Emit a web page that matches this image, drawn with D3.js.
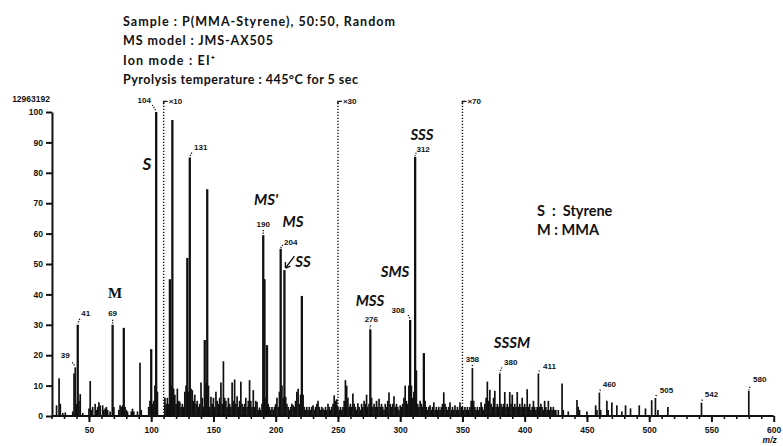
<!DOCTYPE html>
<html><head><meta charset="utf-8">
<script src="https://cdn.jsdelivr.net/npm/d3@7"></script>
<style>
html,body{margin:0;padding:0;background:#fff;}
svg{display:block;}
</style></head><body>
<svg id="chart" width="783" height="446"></svg>
<script>
// Py-GC/MS spectrum of P(MMA-Styrene) 50:50 random copolymer
const titleLines = [
  "Sample : P(MMA-Styrene), 50:50, Random",
  "MS model : JMS-AX505",
  "Ion mode : EI\u207A",
  "Pyrolysis temperature : 445\u00B0C for 5 sec"
];
const titleWidths = [272, 150, 92, 235];
const baseIntensity = "12963192";

// [m/z, relative intensity %] — below m/z 110 (x1)
const peaksLow = [[24,3.5],[26,12.4],[27,4],[29,1],[31,1.2],[37,1.5],[38,14],[39,16],[40,4],[41,30],[42,5],[43,7.2],[45,1],[50,2.5],[51,11.5],[52,2],[53,3],[55,4],[56,2],[57,3],[58,4.5],[59,3.5],[61,3.5],[62,2],[63,2.5],[64,3],[65,2],[67,1.5],[69,30],[70,3],[74,2],[75,3.5],[76,3],[77,3.5],[78,29],[79,3],[80,2],[81,1.5],[84,1.5],[85,2.4],[86,1.5],[89,1.5],[91,17.5],[92,2],[98,3],[99,5],[100,22],[101,4],[102,5],[103,10],[104,100],[105,8]];
// m/z 110–249, shown x10
const peaksX10 = [[111,6],[112,4],[113,6],[114,4],[115,45],[116,10],[117,97.4],[118,9],[119,7],[120,4],[121,9],[122,5],[123,4.7],[124,3],[125,4],[126,3],[127,8],[128,10],[129,52],[130,8],[131,85],[132,9],[133,8.5],[134,5],[135,7],[136,4],[137,5],[138,3],[139,4],[140,11],[141,6],[142,3],[143,25],[144,11],[145,74.6],[146,10],[147,3],[148,6.3],[149,4],[150,6],[151,3],[152,8],[153,5],[154,4],[155,6],[156,11],[157,4],[158,18],[159,6],[160,5],[161,3],[162,6],[163,4],[164,3],[165,11],[166,5],[167,12],[168,4],[169,6.5],[170,3],[171,5],[172,11.3],[173,4],[174,3],[175,4],[176,6],[177,3],[178,5],[179,11.8],[180,5],[181,3],[182,8.5],[183,3],[184,5],[185,4.6],[186,2],[187,2.8],[188,2],[189,4],[190,59.5],[191,45],[192,6],[193,23.3],[194,4],[195,3],[196,2],[197,3],[198,2],[199,3],[200,4],[201,6],[202,3],[203,8],[204,55],[205,10],[206,6],[207,48],[208,6.3],[209,4],[210,3],[211,2],[212,3],[213,4],[214,3.5],[215,3],[216,5],[217,8],[218,9],[219,4],[220,7],[221,39.5],[222,7],[223,3],[224,2],[225,3],[226,2],[227,3],[228,2],[229,3],[230,3.5],[231,2],[232,3],[233,4],[234,5],[235,3],[236,2],[237,3],[238,2.5],[239,2],[240,3],[241,2],[242,4],[243,3],[244,2],[245,3],[246,4],[247,6.8],[248,5],[249,5.5]];
// m/z 250–349, shown x30
const peaksX30 = [[250,3],[251,2],[252,3],[253,2],[254,3],[255,5],[256,11.8],[257,10],[258,6],[259,3],[260,4],[261,3],[262,7.4],[263,4],[264,3],[265,2],[266,4.2],[267,3],[268,2],[269,4],[270,3],[271,5],[272,4],[273,7],[274,3],[275,4],[276,28.5],[277,6],[278,3],[279,4],[280,3],[281,5],[282,3],[283,5.7],[284,3],[285,4],[286,3],[287,2],[288,4],[289,3],[290,5],[291,7.7],[292,4],[293,3],[294,4],[295,6.5],[296,3],[297,4],[298,3],[299,2],[300,3.5],[301,3],[302,4],[303,6],[304,10],[305,5],[306,4],[307,10],[308,31.6],[309,10],[310,6],[311,8],[312,85.3],[313,15],[314,4],[315,3],[316,5],[317,4],[318,3],[319,20.7],[320,5],[321,3],[322,2],[323,3],[324,3.5],[325,2],[326,3],[327,4.5],[328,2],[329,3],[330,2],[331,3],[332,2],[333,3],[334,4],[335,7.8],[336,4],[337,3],[338,2],[339,3],[340,4.5],[341,2],[342,3],[343,2],[344,3.5],[345,2],[346,3],[347,2],[348,4.5],[349,3]];
// m/z 350–600, shown x70
const peaksX70 = [[350,3],[351,2],[352,3],[353,2],[354,3],[355,2],[356,3],[357,5],[358,15.8],[359,5],[360,3],[361,2],[362,3],[363,2],[364,3],[365,4.5],[366,3],[367,2],[368,4],[369,6],[370,11.3],[371,5],[372,8.6],[373,4],[374,3],[375,6],[376,8.3],[377,3],[378,4],[379,3],[380,14],[381,4],[382,3],[383,4],[384,7.9],[385,3],[386,4],[387,3],[388,7.9],[389,4],[390,7],[391,3],[392,4],[393,3],[394,7.9],[395,3],[396,4],[397,3],[398,6],[399,3],[400,4],[401,3],[402,8.8],[403,3],[404,4],[405,2],[406,3],[407,5],[408,3],[409,2],[410,3],[411,14],[412,3],[413,4],[414,3],[415,2],[416,5],[417,3],[418,2],[419,5],[420,2],[421,3],[422,2],[423,3],[424,2],[425,2],[427,2],[430,10.7],[431,2],[435,1.5],[442,5.3],[443,3],[444,2],[450,1.5],[457,3.5],[458,2],[460,7.7],[461,2],[466,5],[467,2],[470,4.4],[474,3.5],[478,1.5],[481,3.5],[485,2.5],[492,3.5],[497,2.5],[502,5.2],[505,5.9],[507,2],[515,3],[542,4.4],[580,8.3]];

const labelledPeaks = [39,41,69,104,131,190,204,276,308,312,358,380,411,460,505,542,580];
const magStart = [110,250,350];
const magFactor = [10,30,70];
const yTicks = [0,10,20,30,40,50,60,70,80,90,100];
const xTicks = [50,100,150,200,250,300,350,400,450,500,550,600];
const compoundNames = ["S","M","MS'","MS","SS","SMS","MSS","SSS","SSSM"];
const legendLines = ["S  :  Styrene","M : MMA"];

// label placement relative to the peak top: [text dx, text dy, leader dx, leader dy]
const labelPlace = {
  39:[-10,-9,-3,-5], 41:[8,-9,2,-6], 69:[0,-9,0,-5], 104:[-12,-9,-4,-7],
  131:[11,-8,2,-5], 190:[0,-8,0,-5], 204:[10,-4,2,-4], 276:[1,-7,0,-4],
  308:[-12,-7,-2,-5], 312:[8,-5,1,-4], 358:[0,-6,0,-3], 380:[11,-8,2,-6],
  411:[11,-4,1,-3], 460:[10,-6,1,-3], 505:[11,-5,1,-3], 542:[10,-6,1,-3], 580:[11,-9,1,-4]
};
// compound annotation positions [x, baseline y, font-size, style]
const compoundPlace = {
  "S":[147,170,17,"i"], "M":[115,298,15,"serif"], "MS'":[266,205,15,"i"], "MS":[293,227,15,"i"],
  "SS":[303,267,15,"i"], "SMS":[395,277,15,"i"], "MSS":[370,306,15,"i"], "SSS":[422,140,15,"i"],
  "SSSM":[512,348,15,"i"]
};

const x = d3.scaleLinear().domain([0,600]).range([26.7,773.7]);
const y = d3.scaleLinear().domain([0,100]).range([416,112]);

const svg = d3.select("#chart");
const ink = "#111";
const allPeaks = [].concat(peaksLow, peaksX10, peaksX30, peaksX70);
const valueOf = new Map(allPeaks);

// header text
svg.append("g").selectAll("text").data(titleLines).join("text")
  .attr("x",123).attr("y",(d,i)=>26+i*19.3)
  .attr("font-family","Lato, 'Open Sans', sans-serif").attr("font-weight",700)
  .attr("font-size",12.5).attr("fill",ink)
  .attr("textLength",(d,i)=>titleWidths[i]).attr("lengthAdjust","spacing").text(d=>d);

// y axis
const yAxis = d3.axisLeft(y).tickValues(yTicks).tickSize(6).tickSizeOuter(0).tickPadding(3);
const gy = svg.append("g").attr("transform",`translate(${x(20.3)},0)`).call(yAxis);
gy.select(".domain").attr("stroke",ink).attr("stroke-width",2);
gy.selectAll(".tick line").attr("stroke",ink).attr("stroke-width",2);
gy.selectAll(".tick text").attr("font-family","'Liberation Sans', Arial, sans-serif")
  .attr("font-weight",700).attr("font-size",8.5).attr("fill",ink);
svg.append("text").attr("x",x(20.3)-2).attr("y",y(100)-10).attr("text-anchor","end")
  .attr("font-family","'Liberation Sans', Arial, sans-serif").attr("font-weight",700)
  .attr("font-size",8.5).attr("fill",ink).text(baseIntensity);

// x axis: minor ticks every 10, labelled every 50
const minorAxis = d3.axisBottom(x).tickValues(d3.range(20,600,10)).tickSize(3).tickFormat("");
const gm = svg.append("g").attr("transform",`translate(0,${y(0)})`).call(minorAxis);
gm.select(".domain").remove();
gm.selectAll(".tick line").attr("stroke",ink).attr("stroke-width",1.6);
const xAxis = d3.axisBottom(x).tickValues(xTicks).tickSize(6).tickPadding(5);
const gx = svg.append("g").attr("transform",`translate(0,${y(0)})`).call(xAxis);
gx.select(".domain").remove();
gx.selectAll(".tick line").attr("stroke",ink).attr("stroke-width",2);
gx.selectAll(".tick text").attr("font-family","'Liberation Sans', Arial, sans-serif")
  .attr("font-weight",700).attr("font-size",8.5).attr("fill",ink);
svg.append("line").attr("x1",x(20.3)).attr("x2",x(600)).attr("y1",y(0)).attr("y2",y(0))
  .attr("stroke",ink).attr("stroke-width",2);
svg.append("text").attr("x",x(600)-4).attr("y",443).attr("text-anchor","middle")
  .attr("font-family","'Liberation Sans', Arial, sans-serif").attr("font-style","italic")
  .attr("font-weight",700).attr("font-size",8.5).attr("fill",ink).text("m/z");

// spectrum sticks
svg.append("g").selectAll("line").data(allPeaks).join("line")
  .attr("x1",d=>x(d[0])).attr("x2",d=>x(d[0]))
  .attr("y1",y(0)).attr("y2",d=>y(d[1]))
  .attr("stroke",ink).attr("stroke-width",d=>d[1]>20?2.3:1.7);

// magnification markers
const mg = svg.append("g");
magStart.forEach((m,i)=>{
  const top = y(103.5);
  mg.append("line").attr("x1",x(m)).attr("x2",x(m)).attr("y1",y(0)).attr("y2",top)
    .attr("stroke",ink).attr("stroke-width",1.4).attr("stroke-dasharray","1.3,1.7");
  mg.append("path").attr("d",`M${x(m)},${top+3}V${top}h4`).attr("fill","none")
    .attr("stroke",ink).attr("stroke-width",1.4);
  mg.append("text").attr("x",x(m)+5).attr("y",top+3)
    .attr("font-family","'Liberation Sans', Arial, sans-serif").attr("font-weight",700)
    .attr("font-size",8).attr("fill",ink).text("\u00D7"+magFactor[i]);
});

// m/z labels with dotted leaders
const lg = svg.append("g");
labelledPeaks.forEach(m=>{
  const v = valueOf.get(m), p = labelPlace[m];
  const px = x(m), py = y(v);
  lg.append("line").attr("x1",px+p[2]).attr("y1",py+p[3]).attr("x2",px).attr("y2",py-1)
    .attr("stroke",ink).attr("stroke-width",1.3).attr("stroke-dasharray","1.2,1.3");
  lg.append("text").attr("x",px+p[0]).attr("y",py+p[1]).attr("text-anchor","middle")
    .attr("font-family","'Liberation Sans', Arial, sans-serif").attr("font-weight",700)
    .attr("font-size",8).attr("fill",ink).text(m);
});

// compound annotations
const cg = svg.append("g");
compoundNames.forEach(n=>{
  const c = compoundPlace[n];
  cg.append("text").attr("x",c[0]).attr("y",c[1]).attr("text-anchor","middle")
    .attr("font-family", c[3]==="serif" ? "'Liberation Serif', serif" : "Lato, 'Open Sans', sans-serif")
    .attr("font-style", c[3]==="i" ? "italic" : "normal")
    .attr("font-weight",700).attr("font-size",c[2]).attr("fill",ink).text(n);
});
// arrow from "SS" down to its peak
const ssx = x(207), ssy = y(valueOf.get(207));
cg.append("path").attr("d",`M${ssx+10},${ssy-14}L${ssx+1},${ssy-2}M${ssx+1},${ssy-2}l0,-6M${ssx+1},${ssy-2}l5,-2`)
  .attr("fill","none").attr("stroke",ink).attr("stroke-width",1.4);

// legend
svg.append("g").selectAll("text").data(legendLines).join("text")
  .attr("x",537).attr("y",(d,i)=>216+i*19)
  .attr("font-family","Lato, 'Open Sans', sans-serif").attr("font-weight",700)
  .attr("font-size",14.5).attr("fill",ink).style("white-space","pre").text(d=>d);
</script></body></html>
